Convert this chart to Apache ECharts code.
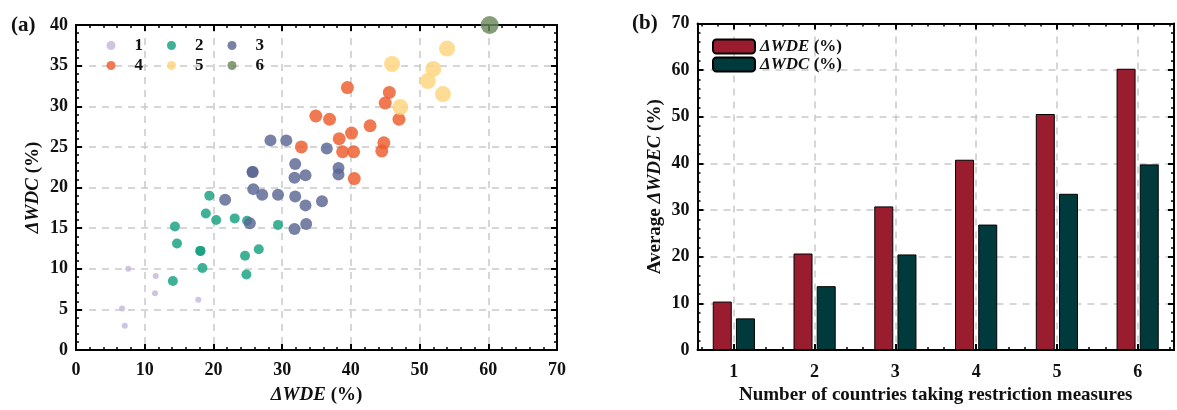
<!DOCTYPE html>
<html>
<head>
<meta charset="utf-8">
<script src="https://cdn.jsdelivr.net/npm/echarts@6/dist/echarts.min.js"></script>
<style>
  html, body { margin: 0; padding: 0; background: #fff; }
  #chart { width: 1177px; height: 410px; }
</style>
</head>
<body>
<div id="chart"></div>
<script>
// (a) scatter groups
var g1X = [7.6, 11.6, 11.5, 17.8, 6.7, 7.1];
var g1Y = [10.0, 9.1, 7.0, 6.2, 5.1, 3.0];
var g2X = [19.4, 18.9, 20.4, 23.1, 24.9, 29.4, 14.4, 14.7, 18.1, 18.1, 26.6, 24.6, 18.4, 14.1, 24.8];
var g2Y = [19.0, 16.8, 16.0, 16.2, 15.9, 15.4, 15.2, 13.1, 12.2, 12.2, 12.4, 11.6, 10.1, 8.5, 9.3];
var g3X = [28.3, 30.6, 36.5, 31.9, 25.7, 25.7, 38.2, 38.2, 31.8, 33.4, 25.8, 27.1, 29.4, 31.9, 33.4, 35.8, 21.7, 25.3, 31.8, 33.5];
var g3Y = [25.8, 25.8, 24.8, 22.9, 21.9, 21.9, 22.4, 21.6, 21.2, 21.5, 19.8, 19.1, 19.1, 18.9, 17.8, 18.3, 18.5, 15.6, 14.9, 15.5];
var g4X = [39.5, 45.6, 45.0, 47.0, 34.9, 36.9, 42.8, 40.1, 38.3, 44.8, 32.8, 38.8, 40.4, 44.5, 40.5];
var g4Y = [32.3, 31.7, 30.4, 28.4, 28.8, 28.4, 27.6, 26.7, 26.0, 25.5, 25.0, 24.4, 24.4, 24.5, 21.1];
var g5X = [54.0, 46.0, 52.0, 51.2, 53.4, 47.2];
var g5Y = [37.1, 35.2, 34.6, 33.1, 31.5, 29.9];
var g6X = [60.2];
var g6Y = [40.0];
var groupNames = ['1', '2', '3', '4', '5', '6'];

// (b) bars
var countries = [1, 2, 3, 4, 5, 6];
var wdeAvg = [10.4, 20.7, 30.8, 40.8, 50.6, 60.3];
var wdcAvg = [6.8, 13.7, 20.5, 26.9, 33.5, 39.8];

var FONT = 'Liberation Serif';
var gridLine = { show: true, lineStyle: { color: '#c9c9c9', width: 1.5, type: [7, 6] } };

function pairs(xs, ys) {
  return xs.map(function (x, i) { return [x, ys[i]]; });
}

// box axis helper: main axis shows labels, mirror axis only ticks
function frameAxis(extra) {
  var base = {
    axisLine: { show: true, onZero: false, lineStyle: { color: '#000', width: 2 } },
    axisTick: { show: true, inside: true, length: 6, lineStyle: { color: '#000', width: 2 } },
    minorTick: { show: true, splitNumber: 5, length: 3, lineStyle: { color: '#000', width: 1.5 } },
    axisLabel: { show: false },
    splitLine: { show: false }
  };
  return Object.assign(base, extra);
}

var labelStyle = { show: true, color: '#111', fontFamily: FONT, fontWeight: 'bold', fontSize: 18 };
var nameRich = {
  i: { fontFamily: FONT, fontWeight: 'bold', fontStyle: 'italic', fontSize: 19, color: '#111' }
};
var nameStyle = { fontFamily: FONT, fontWeight: 'bold', fontSize: 19, color: '#111', rich: nameRich };
var legRich = {
  i: { fontFamily: FONT, fontWeight: 'bold', fontStyle: 'italic', fontSize: 17, color: '#111' }
};

var scatterColors = ['#c6b8da', '#13a07f', '#5a6593', '#ee5b2b', '#ffd47c', '#6b875c'];
var scatterSizes = [6, 10, 12, 13, 16, 18];
var groupsX = [g1X, g2X, g3X, g4X, g5X, g6X];
var groupsY = [g1Y, g2Y, g3Y, g4Y, g5Y, g6Y];

var series = groupNames.map(function (name, k) {
  return {
    name: name,
    type: 'scatter',
    xAxisIndex: 0,
    yAxisIndex: 0,
    clip: false,
    symbolSize: scatterSizes[k],
    itemStyle: { color: scatterColors[k], opacity: 0.82 },
    data: pairs(groupsX[k], groupsY[k])
  };
});

series.push({
  name: 'ΔWDE (%)',
  type: 'bar',
  xAxisIndex: 2,
  yAxisIndex: 2,
  barWidth: 19,
  barGap: '22%',
  itemStyle: { color: '#9a1d2f', borderColor: '#000', borderWidth: 1 },
  data: pairs(countries, wdeAvg)
});
series.push({
  name: 'ΔWDC (%)',
  type: 'bar',
  xAxisIndex: 2,
  yAxisIndex: 2,
  barWidth: 19,
  barGap: '22%',
  itemStyle: { color: '#013a3c', borderColor: '#000', borderWidth: 1 },
  data: pairs(countries, wdcAvg)
});

var dotLegend = {
  left: 106.5, itemWidth: 9, itemHeight: 9, itemGap: 24, padding: 0, icon: 'circle',
  textStyle: { fontFamily: FONT, fontWeight: 'bold', fontSize: 17, color: '#111', padding: [0, 0, 0, 14] }
};

var chart = echarts.init(document.getElementById('chart'), null, { renderer: 'canvas' });
chart.setOption({
  animation: false,
  backgroundColor: '#fff',
  title: [
    { text: '(a)', left: 6, top: 10, textStyle: { fontFamily: FONT, fontWeight: 'bold', fontSize: 21, color: '#111' } },
    { text: '(b)', left: 627, top: 8, textStyle: { fontFamily: FONT, fontWeight: 'bold', fontSize: 21, color: '#111' } }
  ],
  legend: [
    Object.assign({ data: ['1', '2', '3'], top: 37 }, dotLegend),
    Object.assign({ data: ['4', '5', '6'], top: 57 }, dotLegend),
    {
      data: ['ΔWDE (%)', 'ΔWDC (%)'], orient: 'vertical', left: 712, top: 38, padding: 0,
      itemWidth: 42, itemHeight: 14, itemGap: 1,
      formatter: function (n) { return '{i|' + n.replace(' (%)', '') + '} (%)'; },
      textStyle: { fontFamily: FONT, fontWeight: 'bold', fontSize: 17, color: '#111', rich: legRich }
    }
  ],
  grid: [
    { left: 76, top: 25, width: 481, height: 329 },
    { left: 697.5, top: 23.5, width: 479, height: 332.5 }
  ],
  xAxis: [
    frameAxis({
      type: 'value', gridIndex: 0, position: 'bottom', min: 0, max: 70, interval: 10,
      axisLabel: Object.assign({ margin: 11 }, labelStyle),
      splitLine: gridLine,
      name: '{i|ΔWDE} (%)', nameLocation: 'middle', nameGap: 36, nameTextStyle: nameStyle
    }),
    frameAxis({ type: 'value', gridIndex: 0, position: 'top', min: 0, max: 70, interval: 10 }),
    frameAxis({
      type: 'value', gridIndex: 1, position: 'bottom', min: 0.55, max: 6.45,
      axisLabel: Object.assign({
        margin: 13,
        formatter: function (v) { return Math.abs(v - Math.round(v)) < 1e-6 ? String(Math.round(v)) : ''; }
      }, labelStyle),
      splitLine: gridLine,
      name: 'Number of countries taking restriction measures', nameLocation: 'middle', nameGap: 34,
      nameTextStyle: nameStyle
    }),
    frameAxis({ type: 'value', gridIndex: 1, position: 'top', min: 0.55, max: 6.45 })
  ],
  yAxis: [
    frameAxis({
      type: 'value', gridIndex: 0, position: 'left', min: 0, max: 40, interval: 5,
      axisLabel: Object.assign({ margin: 8 }, labelStyle),
      splitLine: gridLine,
      name: '{i|ΔWDC} (%)', nameLocation: 'middle', nameGap: 33, nameTextStyle: nameStyle
    }),
    frameAxis({ type: 'value', gridIndex: 0, position: 'right', min: 0, max: 40, interval: 5 }),
    frameAxis({
      type: 'value', gridIndex: 1, position: 'left', min: 0, max: 70, interval: 10,
      axisLabel: Object.assign({ margin: 8 }, labelStyle),
      splitLine: gridLine,
      name: 'Average {i|ΔWDEC} (%)', nameLocation: 'middle', nameGap: 33, nameTextStyle: nameStyle
    }),
    frameAxis({ type: 'value', gridIndex: 1, position: 'right', min: 0, max: 70, interval: 10 })
  ],
  series: series
});
</script>
</body>
</html>
